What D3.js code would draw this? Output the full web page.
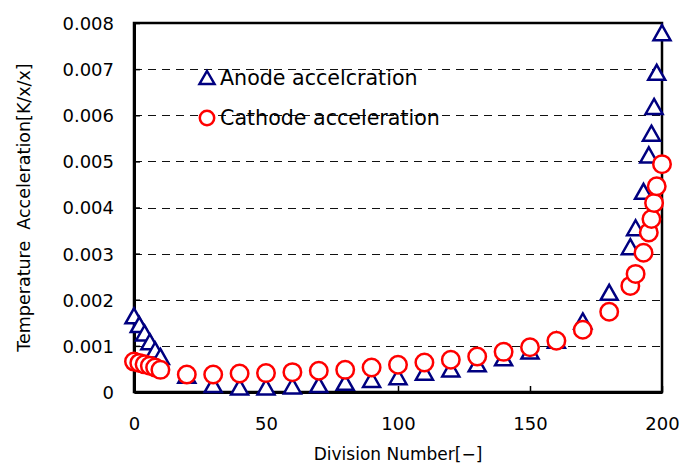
<!DOCTYPE html>
<html>
<head>
<meta charset="utf-8">
<script src="https://cdn.jsdelivr.net/npm/d3@7"></script>
<style>
  body { margin:0; background:#fff; }
  text { font-family:"DejaVu Sans", sans-serif; fill:#000; }
</style>
</head>
<body>
<svg id="chart"></svg>
<script>
//division numbers shared by both series
var divisions = [0,2,4,6,8,10,20,30,40,50,60,70,80,90,100,110,120,130,140,150,160,170,180,188,190,193,195,196,197,198,200];

var anodeValues = [0.00164,0.00145,0.00127,0.00108,0.0009,0.00076,0.00035,0.00015,0.0001,0.0001,0.00012,0.00015,0.0002,0.00026,0.00032,0.00042,0.00049,0.0006,0.00073,0.00088,0.00111,0.00153,0.00215,0.00314,0.00355,0.00434,0.00513,0.0056,0.00618,0.00692,0.00778];

var cathodeValues = [0.00066,0.00063,0.0006,0.00057,0.00053,0.00048,0.00038,0.00038,0.0004,0.00041,0.00043,0.00046,0.00048,0.00053,0.00059,0.00064,0.0007,0.00077,0.00087,0.00097,0.00111,0.00135,0.00174,0.0023,0.00256,0.00302,0.00346,0.00375,0.0041,0.00446,0.00494];

var xTicks = [0,50,100,150,200];
var yTicks = [0,0.001,0.002,0.003,0.004,0.005,0.006,0.007,0.008];

var seriesNames = ["Anode accelcration","Cathode acceleration"];

var screen = {width:690,height:464};
var margins = {left:134,right:28,top:23,bottom:72};
var graph = {
    width:screen.width-margins.left-margins.right,
    height:screen.height-margins.top-margins.bottom
};

var svg = d3.select("#chart")
    .attr("width",screen.width)
    .attr("height",screen.height);

var xScale = d3.scaleLinear().domain([0,200]).range([0,graph.width]);
var yScale = d3.scaleLinear().domain([0,0.008]).range([graph.height,0]);

var target = svg.append("g")
    .attr("transform","translate("+margins.left+","+margins.top+")");

//dashed gridlines
target.append("g")
    .selectAll("line")
    .data(yTicks.slice(1,-1))
    .enter()
    .append("line")
    .attr("x1",0)
    .attr("x2",graph.width)
    .attr("y1",function(d){return Math.round(yScale(d))+0.5})
    .attr("y2",function(d){return Math.round(yScale(d))+0.5})
    .attr("stroke","#111")
    .attr("stroke-width",1)
    .attr("stroke-dasharray","8,6");

//frame
target.append("rect")
    .attr("width",graph.width)
    .attr("height",graph.height)
    .attr("fill","none")
    .attr("stroke","#000")
    .attr("stroke-width",2.5);

//axes with inward ticks
var xAxis = d3.axisBottom(xScale).tickValues(xTicks).tickSizeInner(-6).tickSizeOuter(0).tickPadding(25);
var gx = target.append("g")
    .attr("transform","translate(0,"+graph.height+")")
    .call(xAxis);

var yAxis = d3.axisLeft(yScale).tickValues(yTicks).tickSizeInner(-6).tickSizeOuter(0).tickPadding(20)
    .tickFormat(function(d){return d===0 ? "0" : d3.format(".3f")(d)});
var gy = target.append("g").call(yAxis);

[gx,gy].forEach(function(g){
    g.select(".domain").attr("stroke","#000").attr("stroke-width",3);
    g.selectAll(".tick line").attr("stroke","#000").attr("stroke-width",1.5);
    g.selectAll(".tick text").style("font-size","18px").attr("font-family","DejaVu Sans");
});
gx.selectAll(".tick text").attr("dy","0.71em");
gy.selectAll(".tick text").attr("dy","0.36em");

var triangle = "M0,-8L8.5,7L-8.5,7Z";

//anode series
target.append("g")
    .selectAll("path")
    .data(divisions)
    .enter()
    .append("path")
    .attr("d",triangle)
    .attr("transform",function(d,i){return "translate("+xScale(d)+","+yScale(anodeValues[i])+")"})
    .attr("fill","#fff")
    .attr("stroke","#000080")
    .attr("stroke-width",2.5);

//cathode series
target.append("g")
    .selectAll("circle")
    .data(divisions)
    .enter()
    .append("circle")
    .attr("cx",function(d){return xScale(d)})
    .attr("cy",function(d,i){return yScale(cathodeValues[i])})
    .attr("r",8.75)
    .attr("fill","#fff")
    .attr("stroke","#ff0000")
    .attr("stroke-width",2.5);

//labels
svg.append("text")
    .text("Division Number[\u2212]")
    .attr("text-anchor","middle")
    .style("font-size","17px")
    .attr("x",margins.left+graph.width/2)
    .attr("y",460);

svg.append("g")
    .attr("transform","translate(30,"+(margins.top+graph.height/2)+")")
    .append("text")
    .text("Temperature\u00a0\u00a0Acceleration[K/x/x]")
    .attr("text-anchor","middle")
    .style("font-size","17.5px")
    .attr("transform","rotate(-90)");

//legend
var legend = svg.append("g").attr("transform","translate(207,0)");
var entries = legend.selectAll("g")
    .data(seriesNames)
    .enter()
    .append("g")
    .attr("transform",function(d,i){return "translate(0,"+(78+i*40)+")"});

entries.filter(function(d,i){return i===0})
    .append("path")
    .attr("d","M0,-7L7.5,6L-7.5,6Z")
    .attr("fill","#fff")
    .attr("stroke","#000080")
    .attr("stroke-width",2.5);

entries.filter(function(d,i){return i===1})
    .append("circle")
    .attr("r",7.2)
    .attr("fill","#fff")
    .attr("stroke","#ff0000")
    .attr("stroke-width",2.5);

entries.append("text")
    .text(function(d){return d})
    .attr("x",13)
    .attr("y",7)
    .style("font-size","20.6px");
</script>
</body>
</html>
